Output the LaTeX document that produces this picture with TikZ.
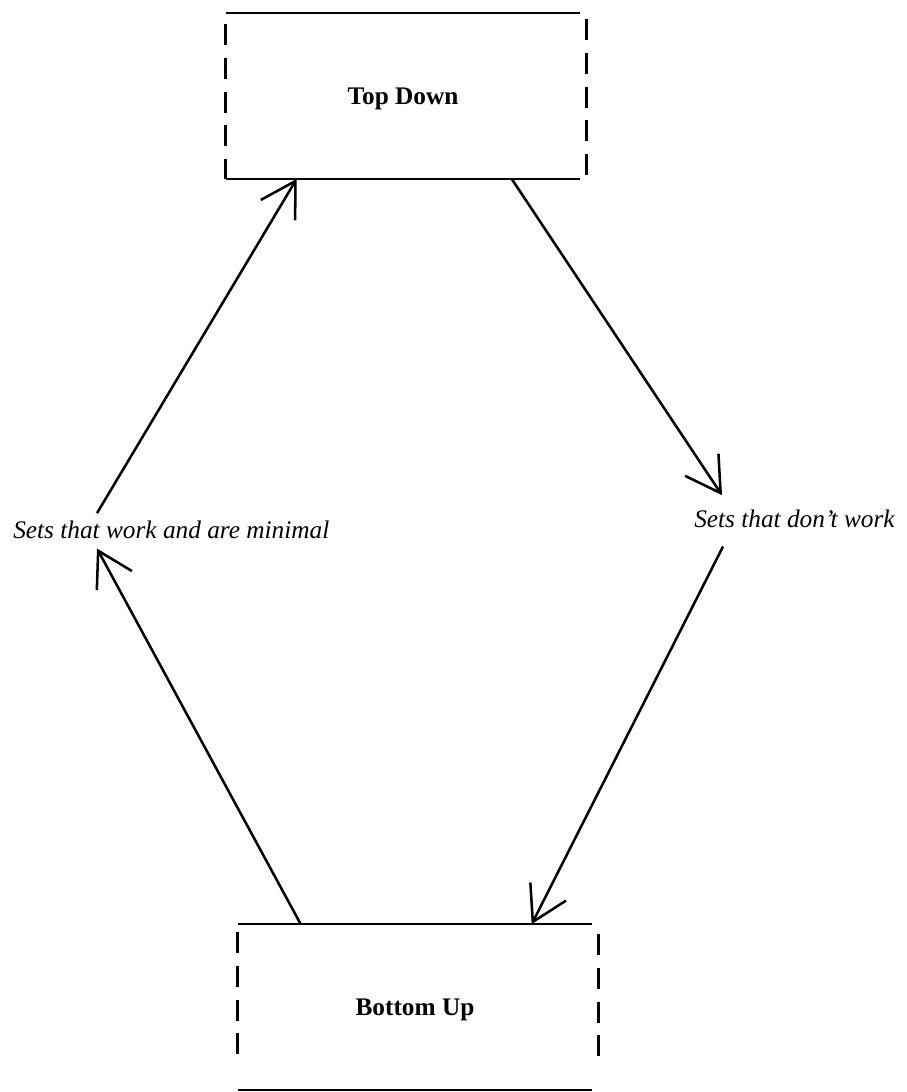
\documentclass[tikz,border=0pt]{standalone}
\usepackage{fontspec}
\setmainfont{Liberation Serif}
\usetikzlibrary{arrows.meta, calc}

\begin{document}
\begin{tikzpicture}[x=0.025cm, y=-0.025cm, line width=1.8pt,
    stage/.style={minimum width=8.8cm, minimum height=4.08cm, inner sep=0pt, text depth=0pt,
        font=\fontsize{18}{21}\selectfont\bfseries},
    note/.style={inner xsep=0pt, inner ysep=0.15cm, font=\fontsize{18}{21}\selectfont\itshape},
    side/.style={dash pattern=on 15pt off 9pt},
    flow/.style={-{Straight Barb[length=0.85cm, width=1cm]}}]
\useasboundingbox (0,0) rectangle (907,1092);

\node[stage] (td) at (403,96) {Top Down};
\node[stage] (bu) at (415,1007) {Bottom Up};
\node[note, anchor=base west] (wl) at (12,538) {Sets that work and are minimal};
\node[note, anchor=base west] (wr) at (693,527) {Sets that don't work};

\foreach \n in {td, bu} {
    \draw (\n.north west) -- (\n.north east);
    \draw (\n.south west) -- (\n.south east);}

\draw[side] ($(td.north west)+(0,11)$) -- (td.south west);
\draw[side] ($(td.north east)+(6,6)$) -- ($(td.south east)+(6,-3)$);
\draw[side] ($(bu.north west)+(0,8)$) -- ($(bu.south west)+(0,-27)$);
\draw[side] ($(bu.north east)+(6,10)$) -- ($(bu.south east)+(6,-32)$);

\draw[flow] ($(wl.north west)+(85,0)$) -- ($(td.south west)+(71,0)$);
\draw[flow] ($(td.south west)+(286,0)$) -- ($(wr.north west)+(29,-7)$);
\draw[flow] ($(wr.south west)+(30,12)$) -- ($(bu.north west)+(294,0)$);
\draw[flow] ($(bu.north west)+(63,0)$) -- ($(wl.south west)+(85,3)$);

\end{tikzpicture}
\end{document}
